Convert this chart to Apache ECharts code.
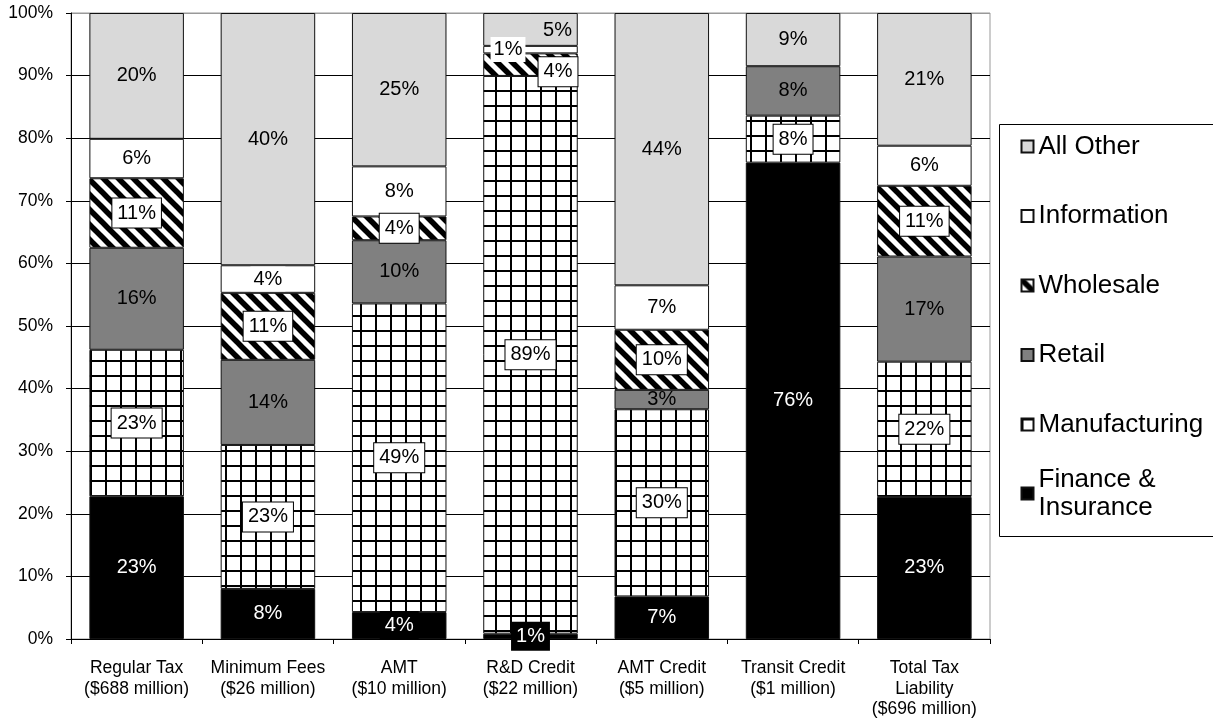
<!DOCTYPE html>
<html>
<head>
<meta charset="utf-8">
<script src="https://cdn.jsdelivr.net/npm/echarts@6/dist/echarts.min.js"></script>
<style>
html,body{margin:0;padding:0;background:#fff;}
#chart{width:1213px;height:721px;}
</style>
</head>
<body>
<div id="chart"></div>
<script>
const categories = [
  'Regular Tax\n($688 million)',
  'Minimum Fees\n($26 million)',
  'AMT\n($10 million)',
  'R&D Credit\n($22 million)',
  'AMT Credit\n($5 million)',
  'Transit Credit\n($1 million)',
  'Total Tax\nLiability\n($696 million)'
];
const financeInsurance = [22.8, 8.0, 4.3, 0.85, 6.8, 76.1, 22.7];
const manufacturing    = [23.4, 23.0, 49.3, 89.1, 29.9, 7.5, 21.6];
const retail           = [16.3, 13.6, 10.1, 0, 3.1, 7.9, 16.8];
const wholesale        = [11.1, 10.7, 3.8, 3.6, 9.6, 0, 11.3];
const information      = [6.3, 4.4, 8.0, 1.2, 7.1, 0, 6.4];
const allOther         = [20.1, 40.3, 24.5, 5.25, 43.5, 8.5, 21.2];
const yTicks = [0, 10, 20, 30, 40, 50, 60, 70, 80, 90, 100];

const FONT = "'Liberation Sans', Arial, sans-serif";

function gridPattern() {
  const c = document.createElement('canvas');
  c.width = 15; c.height = 15;
  const g = c.getContext('2d');
  g.fillStyle = '#fff'; g.fillRect(0, 0, 15, 15);
  g.fillStyle = '#000';
  g.fillRect(0, 0, 15, 2);
  g.fillRect(0, 0, 2, 15);
  return {image: c, repeat: 'repeat'};
}
function diagPattern() {
  const s = 15;
  const c = document.createElement('canvas');
  c.width = s; c.height = s;
  const g = c.getContext('2d');
  g.fillStyle = '#fff'; g.fillRect(0, 0, s, s);
  g.strokeStyle = '#000'; g.lineWidth = 5.5;
  for (let k = -1; k <= 1; k++) {
    g.beginPath();
    g.moveTo(k * s - s, -s);
    g.lineTo(k * s + 2 * s, 2 * s);
    g.stroke();
  }
  return {image: c, repeat: 'repeat'};
}

const fmt = p => (p.value > 0 ? Math.round(p.value) + '%' : '');
const baseLabel = {
  show: true, position: 'inside', fontFamily: FONT, fontSize: 20,
  lineHeight: 22, formatter: fmt, color: '#000'
};
const boxed = Object.assign({}, baseLabel, {
  backgroundColor: '#fff', borderColor: '#000', borderWidth: 1, padding: [4, 5, 3, 5]
});

function toData(arr, offsets) {
  return arr.map((v, i) => {
    if (v === 0) return null;
    if (offsets && offsets[i]) return {value: v, label: {offset: offsets[i]}};
    return v;
  });
}

const itemBase = {borderColor: '#111', borderWidth: 1};
const series = [
  {name: 'Finance & Insurance', data: toData(financeInsurance),
   itemStyle: Object.assign({color: '#000'}, itemBase),
   label: Object.assign({}, baseLabel, {color: '#fff', backgroundColor: '#000', padding: [4, 5, 3, 5]})},
  {name: 'Manufacturing', data: toData(manufacturing),
   itemStyle: Object.assign({color: gridPattern()}, itemBase), label: boxed},
  {name: 'Retail', data: toData(retail),
   itemStyle: Object.assign({color: '#808080'}, itemBase), label: baseLabel},
  {name: 'Wholesale', data: toData(wholesale, {3: [27.5, 7]}),
   itemStyle: Object.assign({color: diagPattern()}, itemBase), label: boxed},
  {name: 'Information', data: toData(information, {3: [-22.5, 0]}),
   itemStyle: Object.assign({color: '#fff'}, itemBase),
   label: Object.assign({}, baseLabel, {backgroundColor: '#fff', padding: [2, 3, 1, 3]})},
  {name: 'All Other', data: toData(allOther, {3: [27, 1]}),
   itemStyle: Object.assign({color: '#d9d9d9'}, itemBase), label: baseLabel}
].map(s => Object.assign({type: 'bar', stack: 'total', barCategoryGap: '28%', animation: false}, s));

const splitColors = yTicks.map((t, i) => (i === yTicks.length - 1 ? '#999' : '#000'));

const chart = echarts.init(document.getElementById('chart'), null, {renderer: 'canvas'});
chart.setOption({
  animation: false,
  backgroundColor: '#fff',
  textStyle: {fontFamily: FONT},
  grid: {left: 71, right: 223, top: 13, bottom: 82, show: true, borderColor: '#999', borderWidth: 1, backgroundColor: 'transparent'},
  xAxis: {
    type: 'category', data: categories,
    axisLine: {lineStyle: {color: '#000', width: 1}},
    axisTick: {show: true, length: 5, lineStyle: {color: '#000'}},
    axisLabel: {interval: 0, fontFamily: FONT, fontSize: 17.5, lineHeight: 20.5, margin: 19, color: '#000'}
  },
  yAxis: {
    type: 'value', min: 0, max: 100, interval: 10,
    axisLine: {show: true, lineStyle: {color: '#000', width: 1}},
    axisTick: {show: true, length: 5, lineStyle: {color: '#000'}},
    axisLabel: {formatter: '{value}%', fontFamily: FONT, fontSize: 17.5, margin: 18, color: '#000'},
    splitLine: {show: true, lineStyle: {color: splitColors, width: 1}}
  },
  graphic: [{
    type: 'rect', z: 1, silent: true,
    shape: {x: 999.5, y: 124.5, width: 230, height: 412},
    style: {fill: '#fff', stroke: '#000', lineWidth: 1}
  }],
  legend: [{
    orient: 'vertical', left: 1020.5, top: 132.5, padding: 0, z: 10,
    itemWidth: 12, itemHeight: 12, itemGap: 41.5, icon: 'rect',
    data: ['All Other', 'Information', 'Wholesale', 'Retail', 'Manufacturing'],
    textStyle: {fontFamily: FONT, fontSize: 26, lineHeight: 28, color: '#000'}
  }, {
    orient: 'vertical', left: 1020.5, top: 451.5, padding: 0, z: 10,
    itemWidth: 12, itemHeight: 12, icon: 'rect',
    data: ['Finance & Insurance'],
    formatter: () => 'Finance &\nInsurance',
    textStyle: {fontFamily: FONT, fontSize: 26, lineHeight: 28, color: '#000', padding: [28, 0, 0, 0]}
  }],
  series: series
});
</script>
</body>
</html>
